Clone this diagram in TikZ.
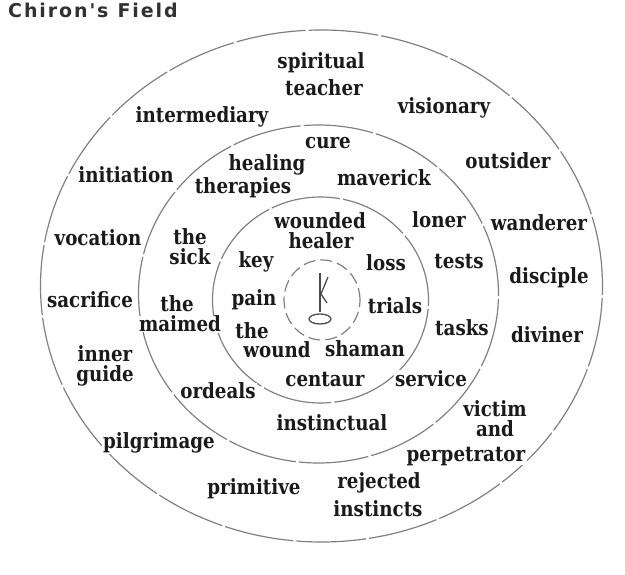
\documentclass[tikz,border=0pt]{standalone}
\usepackage{fontspec}
\newfontfamily\labelfont[FakeStretch=0.87]{DejaVu Serif}
\newfontfamily\titlefont[LetterSpace=10]{DejaVu Sans}
\definecolor{ringgray}{HTML}{808080}
\definecolor{inkblack}{HTML}{1A1A1A}
\tikzset{
	ring/.style={draw=ringgray, line width=1.2pt, dash pattern=on 70pt off 3pt},
	word/.style={font=\labelfont\bfseries\fontsize{21}{20}\selectfont, text=inkblack, fill=white, inner xsep=1.5pt, inner ysep=0pt, anchor=base},
	pair/.style={word, anchor=center, align=center},
	heading/.style={font=\titlefont\bfseries\fontsize{19}{21}\selectfont, text=inkblack!90, anchor=base west, inner sep=0pt},
	glyph/.style={draw=ringgray!60!black, line width=1.3pt},
}
\begin{document}
\begin{tikzpicture}[x=1pt,y=-1pt]
	\useasboundingbox (0,0) rectangle (625,575);
	\node[heading] (title) at (8,18) {Chiron's\hspace{9pt}Field};

	% the three rings and the small one round the glyph
	\draw[ring] (321.5,286) ellipse [x radius=281pt, y radius=256pt];
	\draw[ring] (318.5,294) ellipse [x radius=180pt, y radius=169pt];
	\draw[ring] (320.5,300) ellipse [x radius=108pt, y radius=103pt];
	\draw[ring, dash pattern=on 12pt off 5pt] (322,300) ellipse [x radius=38pt, y radius=40pt];

	% Chiron's key
	\coordinate (knot) at (321,294);
	\draw[glyph] (320,273) -- (320,312);
	\draw[glyph] (knot) -- (328,277);
	\draw[glyph] (knot) -- (327,303);
	\draw[glyph] (320,319) ellipse [x radius=11pt, y radius=5pt];

	% outer ring
	\foreach \x/\y/\w [count=\i] in {321/69/spiritual, 324/96/teacher, 202/123/intermediary, 444/114/visionary,
			126/183/initiation, 508/169/outsider, 98/246/vocation, 539/231/wanderer, 90/308/sacrifice,
			549/284/disciple, 547/343/diviner, 159/449/pilgrimage,
			466/461/perpetrator, 254/494/primitive, 379/489/rejected, 378/516/instincts}{
		\node[word] (outer\i) at (\x,\y) {\w};
	}
	\node[pair] (guide) at (105,366) {inner\\guide};
	\node[pair] (victim) at (495,419) {victim\\and};
	% middle ring
	\foreach \x/\y/\w [count=\i] in {328/149/cure, 267/171/healing, 243/194/therapies, 384/186/maverick,
			439/228/loner, 459/269/tests, 177/312/the, 180/332/maimed,
			462/336/tasks, 218/399/ordeals, 431/386/service, 332/431/instinctual}{
		\node[word] (middle\i) at (\x,\y) {\w};
	}
	\node[pair] (sick) at (190,247) {the\\sick};
	% inner ring
	\foreach \x/\y/\w [count=\i] in {320/229/wounded, 321/249/healer, 256/268/key, 386/271/loss, 254/306/pain,
			395/314/trials, 252/339/the, 277/358/wound, 365/356/shaman, 325/386/centaur}{
		\node[word] (inner\i) at (\x,\y) {\w};
	}
\end{tikzpicture}
\end{document}
